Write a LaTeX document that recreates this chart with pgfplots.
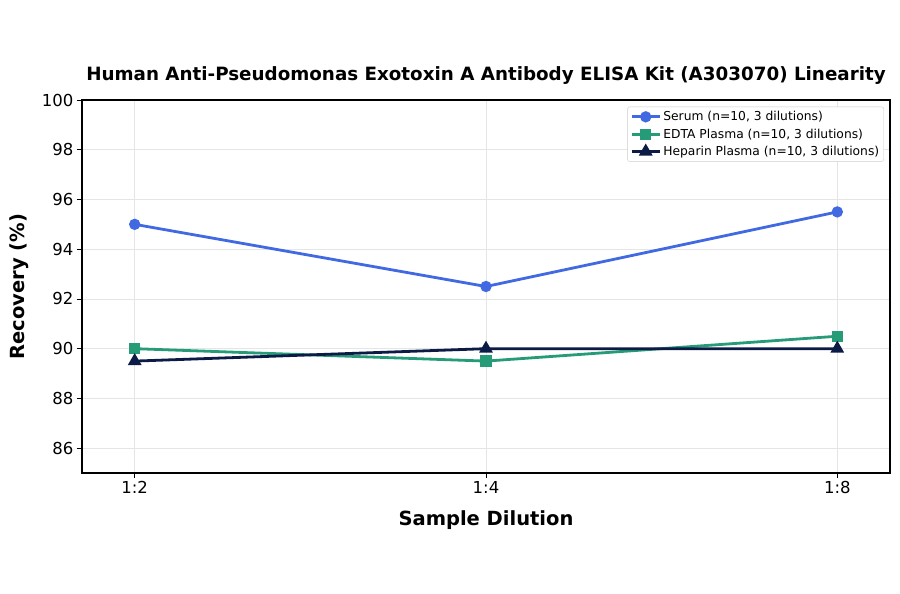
\documentclass[border=0pt]{standalone}
\usepackage{fontspec}
\setmainfont{DejaVu Sans}
\usepackage{pgfplots}
\pgfplotsset{compat=1.18}

\definecolor{serum}{HTML}{4169E1}
\definecolor{edta}{HTML}{259B77}
\definecolor{heparin}{HTML}{0C1A46}

\begin{document}
\begin{tikzpicture}[x=1pt,y=1pt]
  \path (-82,-121) rectangle (818,473);
  \begin{axis}[
    at={(0,0)}, anchor=south west,
    scale only axis,
    width=808pt, height=373pt,
    xmin=-0.15, xmax=2.15,
    ymin=85, ymax=100,
    xtick=data,
    xticklabels={1:2,1:4,1:8},
    ytick={86,88,...,100},
    tick align=outside,
    tick pos=left,
    major tick length=5pt,
    grid=major,
    grid style={gray!20, line width=0.6pt},
    axis line style={line width=1.1pt},
    tick style={black, line width=0.8pt},
    /pgf/number format/assume math mode=true,
    ticklabel style={font=\fontsize{16.5}{19}\selectfont},
    title={\textbf{Human Anti-Pseudomonas Exotoxin A Antibody ELISA Kit (A303070) Linearity}},
    title style={font=\fontsize{18.3}{21}\selectfont, yshift=6pt},
    xlabel={\textbf{Sample Dilution}},
    ylabel={\textbf{Recovery (\%)}},
    label style={font=\fontsize{19.5}{23}\selectfont},
    xlabel style={yshift=-10pt},
    ylabel style={yshift=6pt},
    legend style={at={(0.9925,0.982)}, anchor=north east,
      font=\fontsize{12.3}{14}\selectfont, draw=gray!40, rounded corners=2pt,
      row sep=2.5pt, inner sep=2.5pt},
    legend cell align=left,
    legend image code/.code={
      \draw[mark repeat=2, mark phase=2, #1]
        plot coordinates {(0cm,0cm) (0.5cm,0cm) (1cm,0cm)};
    },
  ]
  \addplot[serum, line width=2.8pt, mark=*, mark size=4.2pt, mark options={solid}]
    coordinates {(0,95) (1,92.5) (2,95.5)};
  \addlegendentry{Serum (n=10, 3 dilutions)}
  \addplot[edta, line width=2.8pt, mark=square*, mark size=4.2pt]
    coordinates {(0,90) (1,89.5) (2,90.5)};
  \addlegendentry{EDTA Plasma (n=10, 3 dilutions)}
  \addplot[heparin, line width=2.8pt, mark=triangle*, mark size=5.2pt]
    coordinates {(0,89.5) (1,90) (2,90)};
  \addlegendentry{Heparin Plasma (n=10, 3 dilutions)}
  \end{axis}
\end{tikzpicture}
\end{document}
